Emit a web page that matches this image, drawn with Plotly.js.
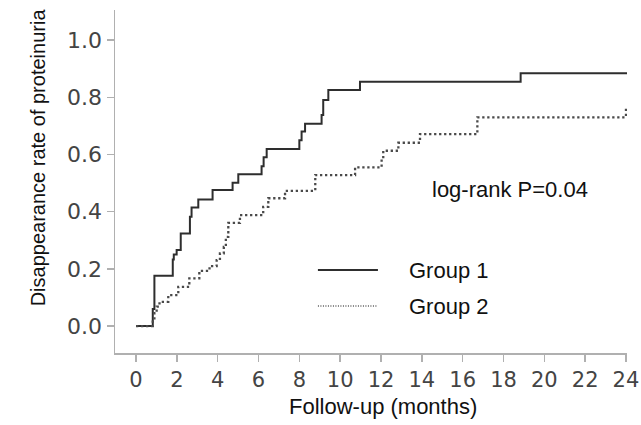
<!DOCTYPE html>
<html>
<head>
<meta charset="utf-8">
<script src="https://cdn.plot.ly/plotly-3.0.1.min.js"></script>
<style>html,body{margin:0;padding:0;background:#fff;}#chart{width:641px;height:425px;}</style>
</head>
<body>
<div id="chart"></div>
<script>
// Group 1 (solid) step curve: time (months) and cumulative disappearance rate
var group1Time = [0, 0.82, 0.9, 1.8, 1.85, 1.99, 2.19, 2.64, 2.72, 2.78, 3.05, 3.75, 4.73, 5.01, 6.15, 6.25, 6.4, 8.0, 8.11, 8.28, 9.09, 9.17, 9.42, 10.97, 18.84, 24.05];
var group1Rate = [0, 0.06, 0.176, 0.233, 0.25, 0.266, 0.324, 0.382, 0.415, 0.415, 0.443, 0.476, 0.501, 0.531, 0.559, 0.59, 0.619, 0.65, 0.68, 0.707, 0.738, 0.79, 0.825, 0.854, 0.884, 0.884];
// Group 2 (dotted) step curve
var group2Time = [0, 0.82, 0.9, 1.01, 1.15, 1.58, 2.07, 2.61, 3.1, 3.6, 3.95, 4.11, 4.3, 4.4, 4.52, 5.09, 6.23, 6.48, 7.3, 8.78, 10.73, 12.03, 12.11, 12.85, 13.91, 16.72, 24.0, 24.05];
var group2Rate = [0, 0.027, 0.045, 0.068, 0.085, 0.108, 0.137, 0.167, 0.193, 0.21, 0.231, 0.254, 0.277, 0.312, 0.361, 0.388, 0.417, 0.447, 0.473, 0.528, 0.555, 0.586, 0.613, 0.641, 0.671, 0.73, 0.761, 0.761];
var xTicks = [0, 2, 4, 6, 8, 10, 12, 14, 16, 18, 20, 22, 24];
var yTicks = [0.0, 0.2, 0.4, 0.6, 0.8, 1.0];
var yTickText = ["0.0", "0.2", "0.4", "0.6", "0.8", "1.0"];
var legendNames = ["Group 1", "Group 2"];
var pValueText = "log-rank P=0.04";

var traces = [
  {x: group1Time, y: group1Rate, type: 'scatter', mode: 'lines', name: legendNames[0],
   line: {shape: 'hv', color: '#2e2e2e', width: 2}, showlegend: false, hoverinfo: 'skip'},
  {x: group2Time, y: group2Rate, type: 'scatter', mode: 'lines', name: legendNames[1],
   line: {shape: 'hv', color: '#4a4a4a', width: 2.3, dash: '2.3px,2.7px'}, showlegend: false, hoverinfo: 'skip'}
];

var txtFont = {family: 'Liberation Sans, Arial, sans-serif', size: 22, color: '#111'};
var layout = {
  width: 641, height: 425,
  margin: {l: 115, r: 14, t: 10, b: 72},
  paper_bgcolor: '#fff', plot_bgcolor: '#fff',
  showlegend: false,
  xaxis: {
    range: [-1.03, 24.05], tickvals: xTicks, ticktext: xTicks.map(String),
    showgrid: false, zeroline: false, showline: true, linecolor: '#b0b0b0', linewidth: 1.5,
    ticks: 'outside', ticklen: 7, tickcolor: '#b0b0b0', tickwidth: 1.5,
    tickfont: {family: 'DejaVu Sans, Verdana, sans-serif', size: 21, color: '#444'},
    fixedrange: true
  },
  yaxis: {
    range: [-0.094, 1.105], tickvals: yTicks, ticktext: yTickText,
    showgrid: false, zeroline: false, showline: true, linecolor: '#b0b0b0', linewidth: 1.5,
    ticks: 'outside', ticklen: 7, tickcolor: '#b0b0b0', tickwidth: 1.5,
    tickfont: {family: 'DejaVu Sans, Verdana, sans-serif', size: 22, color: '#444'},
    fixedrange: true
  },
  shapes: [
    {type: 'line', xref: 'x', yref: 'y', x0: 8.91, x1: 11.85, y0: 0.196, y1: 0.196,
     line: {color: '#2e2e2e', width: 2}},
    {type: 'line', xref: 'x', yref: 'y', x0: 8.91, x1: 11.85, y0: 0.07, y1: 0.07,
     line: {color: '#5a5a5a', width: 1.5, dash: '1px,1.5px'}}
  ],
  annotations: [
    {text: pValueText, xref: 'x', yref: 'y', x: 18.3, y: 0.476, xanchor: 'center', yanchor: 'middle',
     showarrow: false, font: txtFont},
    {text: legendNames[0], xref: 'x', yref: 'y', x: 13.27, y: 0.196, xanchor: 'left', yanchor: 'middle',
     showarrow: false, font: txtFont},
    {text: legendNames[1], xref: 'x', yref: 'y', x: 13.27, y: 0.07, xanchor: 'left', yanchor: 'middle',
     showarrow: false, font: txtFont},
    {text: 'Disappearance rate of proteinuria', xref: 'paper', yref: 'paper', x: -0.150, y: 0.571,
     xanchor: 'center', yanchor: 'middle', textangle: -90, showarrow: false,
     font: {family: 'Liberation Sans, Arial, sans-serif', size: 20, color: '#111'}},
    {text: 'Follow-up (months)', xref: 'paper', yref: 'paper', x: 0.523, y: -0.156,
     xanchor: 'center', yanchor: 'middle', showarrow: false, font: txtFont}
  ]
};

Plotly.newPlot('chart', traces, layout, {displayModeBar: false, staticPlot: true});
</script>
</body>
</html>
